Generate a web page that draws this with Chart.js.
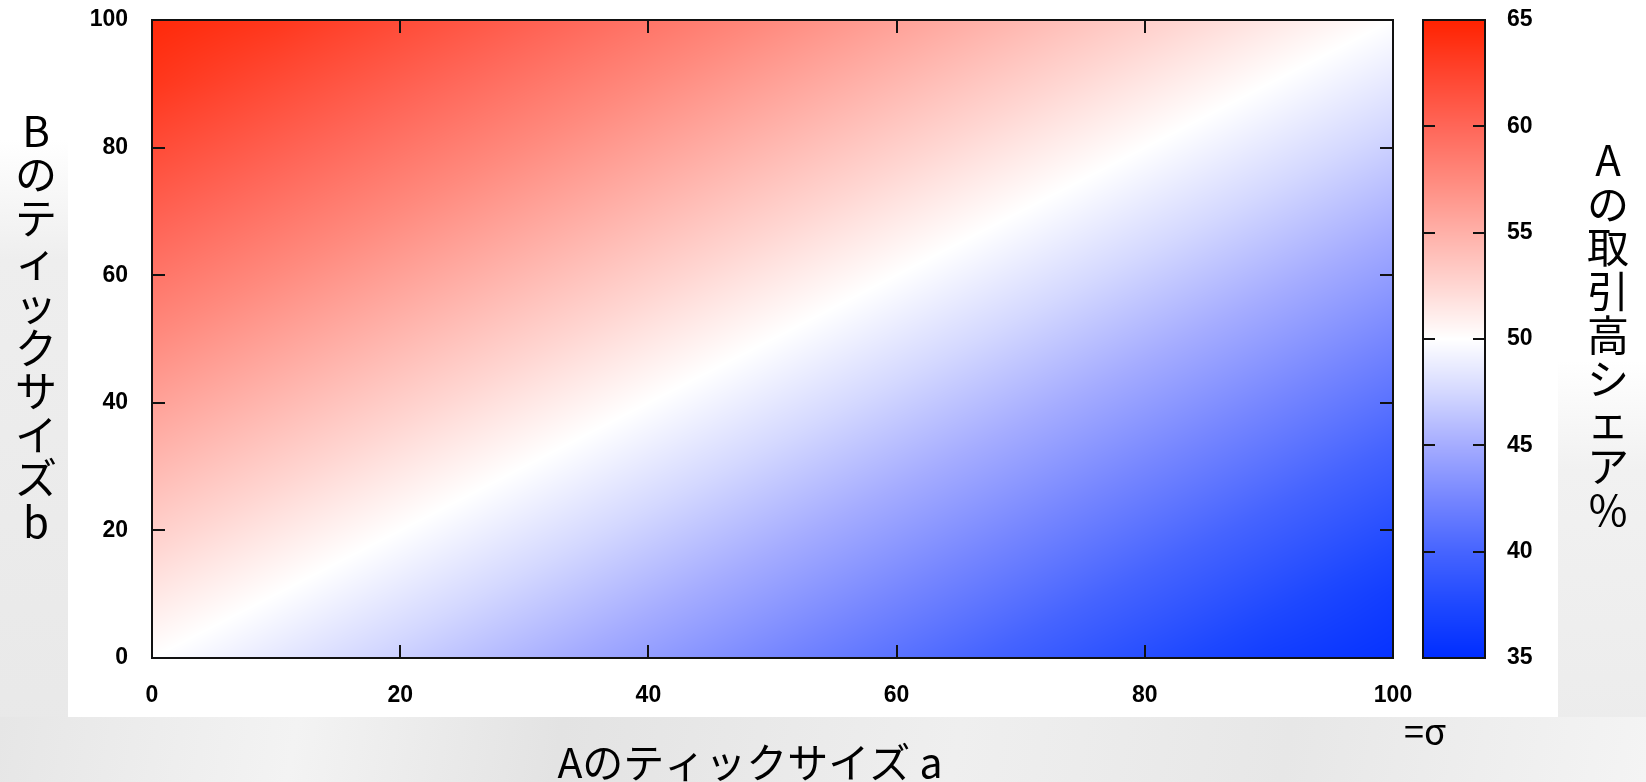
<!DOCTYPE html>
<html>
<head>
<meta charset="utf-8">
<script src="https://cdn.jsdelivr.net/npm/chart.js@4/dist/chart.umd.min.js"></script>
<style>
  body { margin: 0; width: 1646px; height: 782px; overflow: hidden; position: relative;
         background: linear-gradient(180deg, #ffffff 0px, #ffffff 140px, #eeeeee 260px, #e8e8e8 782px); }
  #rightBg { position: absolute; left: 1558px; top: 0; width: 88px; height: 782px;
         background: linear-gradient(180deg, #ffffff 0px, #ffffff 360px, #f1f1f1 470px, #ebebeb 782px); }
  #bottomBg { position: absolute; left: 0; top: 717px; width: 1646px; height: 65px;
         background: linear-gradient(100deg, #e6e6e6 0%, #f3f3f3 18%, #e3e3e3 34%, #efefef 58%, #e7e7e7 78%, #f4f4f4 100%); }
  #panel { position: absolute; left: 68px; top: 0; width: 1490px; height: 717px; background: #fff; }
  canvas { position: absolute; top: 0; }
  #main { left: 0; }
  #bar { left: 1400px; }
</style>
</head>
<body>
<div id="rightBg"></div>
<div id="bottomBg"></div>
<div id="panel"></div>
<canvas id="main" width="1646" height="782"></canvas>
<canvas id="bar" width="246" height="782"></canvas>
<script>
// 軸の値
const tickSizeA = [0, 10, 20, 30, 40, 50, 60, 70, 80, 90, 100];
const tickSizeB = [0, 10, 20, 30, 40, 50, 60, 70, 80, 90, 100];

// Aの取引高シェア(%)  行 = b (0 → 100), 列 = a (0 → 100)
const shareB0   = [50.0, 48.5, 47.0, 45.5, 44.0, 42.5, 41.0, 39.5, 38.0, 36.5, 35.5];
const shareB10  = [51.5, 50.0, 48.5, 47.0, 45.5, 44.0, 42.5, 41.0, 39.5, 38.0, 36.5];
const shareB20  = [53.0, 51.5, 50.0, 48.5, 47.0, 45.5, 44.0, 42.5, 41.0, 39.5, 38.0];
const shareB30  = [54.5, 53.0, 51.5, 50.0, 48.5, 47.0, 45.5, 44.0, 42.5, 41.0, 39.5];
const shareB40  = [56.0, 54.5, 53.0, 51.5, 50.0, 48.5, 47.0, 45.5, 44.0, 42.5, 41.0];
const shareB50  = [57.5, 56.0, 54.5, 53.0, 51.5, 50.0, 48.5, 47.0, 45.5, 44.0, 42.5];
const shareB60  = [59.0, 57.5, 56.0, 54.5, 53.0, 51.5, 50.0, 48.5, 47.0, 45.5, 44.0];
const shareB70  = [60.5, 59.0, 57.5, 56.0, 54.5, 53.0, 51.5, 50.0, 48.5, 47.0, 45.5];
const shareB80  = [62.0, 60.5, 59.0, 57.5, 56.0, 54.5, 53.0, 51.5, 50.0, 48.5, 47.0];
const shareB90  = [63.5, 62.0, 60.5, 59.0, 57.5, 56.0, 54.5, 53.0, 51.5, 50.0, 48.5];
const shareB100 = [64.5, 63.5, 62.0, 60.5, 59.0, 57.5, 56.0, 54.5, 53.0, 51.5, 50.0];
const shareRows = [shareB0, shareB10, shareB20, shareB30, shareB40, shareB50,
                   shareB60, shareB70, shareB80, shareB90, shareB100];

// カラーバー
const shareMin = 35, shareMax = 65;
const paletteStops = [35, 37.5, 40, 42.5, 45, 47.5, 50, 52.5, 55, 57.5, 60, 62.5, 65];
const paletteRGB = [
    [0, 45, 255], [30, 72, 255], [70, 100, 255], [118, 134, 255], [165, 172, 255], [212, 216, 255],
    [255, 255, 255],
    [255, 214, 210], [255, 176, 168], [255, 138, 126], [255, 102, 88], [255, 68, 46], [255, 34, 0]
];

const tickFont = { family: "'Liberation Sans', Arial, sans-serif", size: 23, weight: 'bold' };
const titleFont = "'Noto Sans CJK JP', sans-serif";

function shareColor(v) {
    if (v <= paletteStops[0]) return paletteRGB[0];
    for (let i = 1; i < paletteStops.length; i++) {
        if (v <= paletteStops[i]) {
            const t = (v - paletteStops[i - 1]) / (paletteStops[i] - paletteStops[i - 1]);
            const c0 = paletteRGB[i - 1], c1 = paletteRGB[i];
            return [c0[0] + (c1[0] - c0[0]) * t, c0[1] + (c1[1] - c0[1]) * t, c0[2] + (c1[2] - c0[2]) * t];
        }
    }
    return paletteRGB[paletteRGB.length - 1];
}

function locate(arr, v) {
    if (v <= arr[0]) return [0, 0];
    for (let i = 0; i < arr.length - 1; i++) {
        if (v <= arr[i + 1]) return [i, (v - arr[i]) / (arr[i + 1] - arr[i])];
    }
    return [arr.length - 2, 1];
}

// 格子の値から読む(双一次)
function shareAt(a, b) {
    const [i, fx] = locate(tickSizeA, a);
    const [j, fy] = locate(tickSizeB, b);
    const r0 = shareRows[j], r1 = shareRows[j + 1];
    const v0 = r0[i] + (r0[i + 1] - r0[i]) * fx;
    const v1 = r1[i] + (r1[i + 1] - r1[i]) * fx;
    return v0 + (v1 - v0) * fy;
}

const heatmapPlugin = {
    id: 'heatmap',
    beforeDatasetsDraw(chart) {
        const { ctx, chartArea: area, scales: { x, y } } = chart;
        const w = Math.round(area.right - area.left);
        const h = Math.round(area.bottom - area.top);
        const img = ctx.createImageData(w, h);
        for (let py = 0; py < h; py++) {
            const b = y.getValueForPixel(area.top + py + 0.5);
            for (let px = 0; px < w; px++) {
                const a = x.getValueForPixel(area.left + px + 0.5);
                const c = shareColor(shareAt(a, b));
                const k = (py * w + px) * 4;
                img.data[k] = c[0];
                img.data[k + 1] = c[1];
                img.data[k + 2] = c[2];
                img.data[k + 3] = 255;
            }
        }
        ctx.putImageData(img, Math.round(area.left), Math.round(area.top));
    }
};

const colorbarPlugin = {
    id: 'colorbar',
    beforeDatasetsDraw(chart) {
        const { ctx, chartArea: area, scales: { y } } = chart;
        for (let py = Math.floor(area.top); py < area.bottom; py++) {
            const c = shareColor(y.getValueForPixel(py + 0.5));
            ctx.fillStyle = `rgb(${Math.round(c[0])},${Math.round(c[1])},${Math.round(c[2])})`;
            ctx.fillRect(area.left, py, area.right - area.left, 1);
        }
    }
};

// 内向きの目盛りと枠
const framePlugin = {
    id: 'frame',
    afterDatasetsDraw(chart, args, opts) {
        const { ctx, chartArea: a } = chart;
        const len = opts.length || 13;
        ctx.save();
        ctx.strokeStyle = '#111';
        ctx.lineWidth = 2;
        ctx.beginPath();
        (opts.axes || []).forEach(id => {
            const s = chart.scales[id];
            s.ticks.forEach(t => {
                if (t.value <= s.min || t.value >= s.max) return;
                const p = Math.round(s.getPixelForValue(t.value));
                if (s.isHorizontal()) {
                    ctx.moveTo(p, a.bottom); ctx.lineTo(p, a.bottom - len);
                    ctx.moveTo(p, a.top); ctx.lineTo(p, a.top + len);
                } else {
                    ctx.moveTo(a.left, p); ctx.lineTo(a.left + len, p);
                    ctx.moveTo(a.right, p); ctx.lineTo(a.right - len, p);
                }
            });
        });
        ctx.stroke();
        ctx.strokeRect(a.left, a.top, a.right - a.left, a.bottom - a.top);
        ctx.restore();
    }
};

// 縦書き・横書きのラベル
const titlePlugin = {
    id: 'titles',
    afterDraw(chart, args, opts) {
        const ctx = chart.ctx;
        ctx.save();
        ctx.fillStyle = '#000';
        ctx.textAlign = 'center';
        ctx.textBaseline = 'middle';
        (opts.items || []).forEach(it => {
            ctx.font = `${it.size}px ${titleFont}`;
            if (it.vertical) {
                Array.from(it.text.replace(/ /g, '')).forEach((ch, i) => ctx.fillText(ch, it.x, it.y + i * it.step));
            } else {
                ctx.fillText(it.text, it.x, it.y);
            }
        });
        ctx.restore();
    }
};

// 目盛り文字のはみ出しで描画域が縮まないようにする
function noOverhang(s) {
    s.paddingTop = 0; s.paddingBottom = 0;
    s.paddingLeft = 0; s.paddingRight = 0;
}

new Chart(document.getElementById('main'), {
    type: 'scatter',
    data: { datasets: [{ data: [], pointRadius: 0 }] },
    options: {
        responsive: false,
        animation: false,
        layout: { padding: { left: 0, top: 20, right: 253, bottom: 0 } },
        plugins: {
            legend: { display: false },
            tooltip: { enabled: false },
            frame: { axes: ['x', 'y'], length: 13 },
            titles: {
                items: [
                    { text: 'Bのティックサイズ b', x: 36, y: 131, step: 43.4, size: 42, vertical: true },
                    { text: 'Aのティックサイズ a', x: 750, y: 762, size: 41 },
                    { text: '=σ', x: 1425, y: 731, size: 36 }
                ]
            }
        },
        scales: {
            x: {
                type: 'linear', min: 0, max: 100,
                ticks: { stepSize: 20, padding: 24, color: '#000', font: tickFont },
                grid: { display: false, drawTicks: false },
                border: { display: false },
                afterFit(s) { s.height = 124; noOverhang(s); }
            },
            y: {
                type: 'linear', min: 0, max: 100,
                ticks: { stepSize: 20, padding: 24, color: '#000', font: tickFont },
                grid: { display: false, drawTicks: false },
                border: { display: false },
                afterFit(s) { s.width = 152; noOverhang(s); }
            }
        }
    },
    plugins: [heatmapPlugin, framePlugin, titlePlugin]
});

new Chart(document.getElementById('bar'), {
    type: 'scatter',
    data: { datasets: [{ data: [], pointRadius: 0 }] },
    options: {
        responsive: false,
        animation: false,
        layout: { padding: { left: 23, top: 20, right: 0, bottom: 124 } },
        plugins: {
            legend: { display: false },
            tooltip: { enabled: false },
            frame: { axes: ['y'], length: 12 },
            titles: {
                items: [
                    { text: 'Aの取引高シェア%', x: 208, y: 160, step: 43.75, size: 42, vertical: true }
                ]
            }
        },
        scales: {
            x: { type: 'linear', min: 0, max: 1, display: false },
            y: {
                type: 'linear', position: 'right', min: shareMin, max: shareMax,
                ticks: { stepSize: 5, padding: 22, color: '#000', font: tickFont },
                grid: { display: false, drawTicks: false },
                border: { display: false },
                afterFit(s) { s.width = 161; noOverhang(s); }
            }
        }
    },
    plugins: [colorbarPlugin, framePlugin, titlePlugin]
});
</script>
</body>
</html>
